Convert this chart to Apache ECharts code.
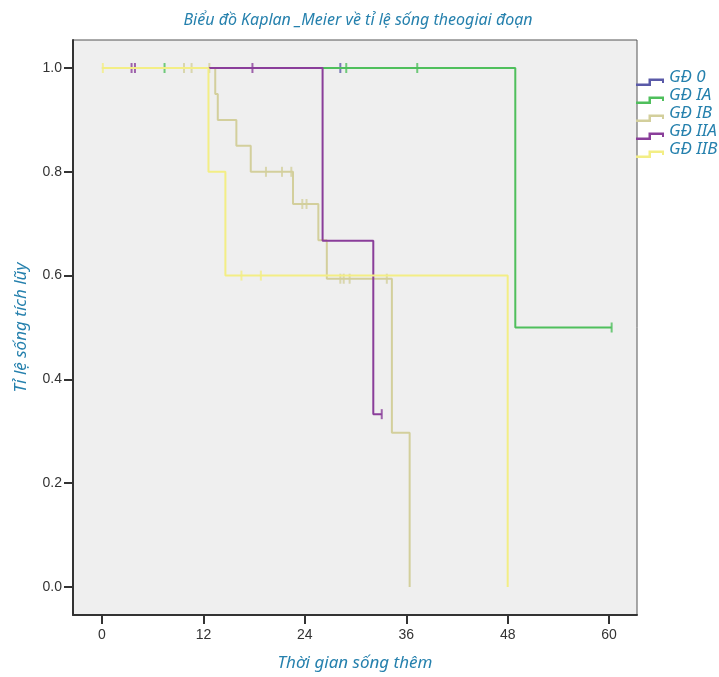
<!DOCTYPE html>
<html>
<head>
<meta charset="utf-8">
<script src="https://cdn.jsdelivr.net/npm/echarts@6/dist/echarts.min.js"></script>
<style>html,body{margin:0;padding:0;background:#fff}#c{width:719px;height:677px}</style>
</head>
<body>
<div id="c"></div>
<script>
// ---- Data ----
const seriesNames = ['GĐ 0', 'GĐ IA', 'GĐ IB', 'GĐ IIA', 'GĐ IIB'];
const xTicks = [0, 12, 24, 36, 48, 60];
const yTicks = [0, 0.2, 0.4, 0.6, 0.8, 1.0];

// Step curves: event times and survival after each time
const g0T = [0, 28.2];
const g0S = [1, 1];
const iaT = [0, 48.9, 60.3];
const iaS = [1, 0.5, 0.5];
const ibT = [0, 13.4, 13.7, 15.9, 17.6, 22.6, 25.6, 26.6, 34.3, 36.4];
const ibS = [1, 0.95, 0.90, 0.85, 0.80, 0.738, 0.668, 0.594, 0.297, 0];
const iiaT = [0, 26.1, 32.1, 33.1];
const iiaS = [1, 0.667, 0.333, 0.333];
const iibT = [0, 12.6, 14.6, 48.0];
const iibS = [1, 0.80, 0.60, 0];

// Censored observations (time, survival level)
const g0CT = [28.2];
const g0CS = [1];
const iaCT = [7.4, 28.9, 37.3, 60.3];
const iaCS = [1, 1, 1, 0.5];
const ibCT = [9.7, 10.6, 12.7, 19.4, 21.3, 22.4, 23.7, 24.2, 28.2, 28.6, 29.3, 33.7];
const ibCS = [1, 1, 1, 0.80, 0.80, 0.80, 0.738, 0.738, 0.594, 0.594, 0.594, 0.594];
const iiaCT = [3.5, 3.9, 17.8, 33.1];
const iiaCS = [1, 1, 1, 0.333];
const iibCT = [0.1, 16.5, 18.8];
const iibCS = [1, 0.60, 0.60];

const colors = ['#5a5aa8', '#4fbf5c', '#d3cf9c', '#8a3e9a', '#f3ee85'];
const curveT = [g0T, iaT, ibT, iiaT, iibT];
const curveS = [g0S, iaS, ibS, iiaS, iibS];
const censT = [g0CT, iaCT, ibCT, iiaCT, iibCT];
const censS = [g0CS, iaCS, ibCS, iiaCS, iibCS];

const zip = (a, b) => a.map((v, i) => [v, b[i]]);
const textBlue = '#2580ad';
const stepIcon = 'path://M0,0 L0.05,0 L0.05,0.05 Z M0,15.5 L12.5,15.5 L12.5,10.5 L28,10.5 L28,15 L26,15 L26,13 L15,13 L15,18 L0,18 Z';

const series = [];
seriesNames.forEach((n, i) => {
  series.push({
    name: n, type: 'line', step: 'end', symbol: 'none', z: 2 + i,
    lineStyle: { color: colors[i], width: 2 },
    itemStyle: { color: colors[i] },
    data: zip(curveT[i], curveS[i])
  });
  series.push({
    name: n, type: 'scatter', symbol: 'rect', symbolSize: [2, 10], z: 2 + i,
    itemStyle: { color: colors[i] },
    data: zip(censT[i], censS[i])
  });
});

const chart = echarts.init(document.getElementById('c'), null, { renderer: 'canvas' });
chart.setOption({
  animation: false,
  backgroundColor: '#ffffff',
  title: {
    text: 'Biểu đồ Kaplan _Meier về tỉ lệ sống theogiai đoạn',
    left: 353, top: 7, textAlign: 'center',
    textStyle: { fontFamily: 'Noto Sans', fontStyle: 'italic', fontWeight: 'normal', fontSize: 16, color: textBlue }
  },
  legend: {
    orient: 'vertical', left: 636, top: 68, padding: 0,
    itemWidth: 28, itemHeight: 18, itemGap: 0,
    textStyle: { fontFamily: 'Noto Sans', fontStyle: 'italic', fontSize: 17, color: textBlue, lineHeight: 18, padding: [0, 0, 0, 0] },
    data: seriesNames.map((n, i) => ({ name: n, icon: stepIcon, itemStyle: { color: colors[i] } }))
  },
  grid: {
    left: 73, right: 82, top: 40, bottom: 62,
    show: true, backgroundColor: '#efefef', borderColor: '#555', borderWidth: 1
  },
  xAxis: {
    type: 'value', min: -3.43, max: 63.3,
    name: 'Thời gian sống thêm', nameLocation: 'middle', nameGap: 40,
    nameTextStyle: { fontFamily: 'Noto Sans', fontStyle: 'italic', fontSize: 17, color: textBlue },
    axisLine: { onZero: false, lineStyle: { color: '#333', width: 2 } },
    axisTick: { customValues: xTicks, length: 9, lineStyle: { color: '#333', width: 2 } },
    axisLabel: { customValues: xTicks, margin: 13, fontFamily: 'Liberation Sans', fontSize: 14, color: '#333' },
    splitLine: { show: false }
  },
  yAxis: {
    type: 'value', min: -0.054, max: 1.054,
    name: 'Tỉ lệ sống tích lũy', nameLocation: 'middle', nameGap: 43, nameRotate: 90,
    nameTextStyle: { fontFamily: 'Noto Sans', fontStyle: 'italic', fontSize: 17, color: textBlue },
    axisLine: { onZero: false, lineStyle: { color: '#333', width: 2 } },
    axisTick: { customValues: yTicks, length: 9, lineStyle: { color: '#333', width: 2 } },
    axisLabel: { customValues: yTicks, margin: 11, fontFamily: 'Liberation Sans', fontSize: 14, color: '#333',
      formatter: v => v.toFixed(1) },
    splitLine: { show: false }
  },
  series: series
});
</script>
</body>
</html>
